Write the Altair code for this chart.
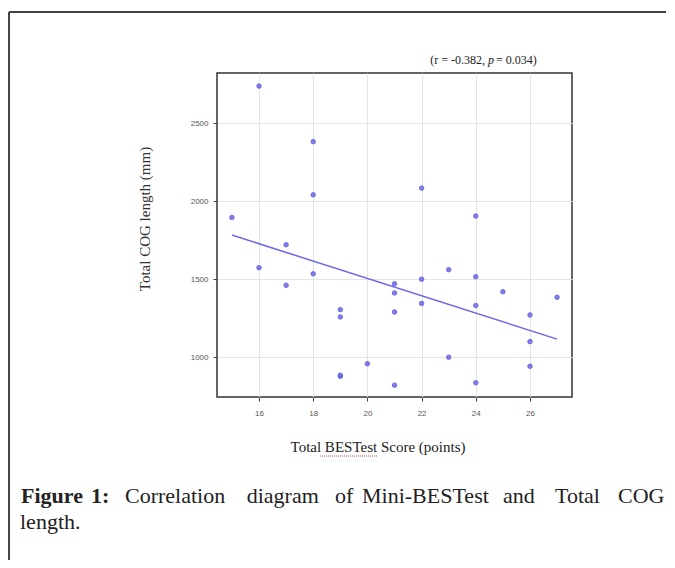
import altair as alt
import pandas as pd

# ---- data ----
scores = [15, 16, 16, 17, 17, 18, 18, 18, 19, 19, 19, 19, 20, 21, 21, 21, 21,
          22, 22, 22, 23, 23, 24, 24, 24, 24, 25, 26, 26, 26, 27]
cog = [1896, 2738, 1574, 1721, 1461, 2382, 2041, 1535, 1305, 1258, 878, 885, 958,
       1471, 1412, 1290, 821, 2084, 1500, 1345, 1561, 1000, 1905, 1516, 1331, 836,
       1420, 1271, 1100, 942, 1384]
x_ticks = [16, 18, 20, 22, 24, 26]
y_ticks = [1000, 1500, 2000, 2500]

df = pd.DataFrame({"score": scores, "cog": cog})
one = pd.DataFrame({"k": [0]})

SERIF = "Liberation Serif"
SANS = "Liberation Sans"
PT = "#7672e8"

x_enc = alt.X("score:Q",
              scale=alt.Scale(domain=[14.45, 27.55], nice=False, zero=False),
              axis=alt.Axis(values=x_ticks, title=None, labelFontSize=8,
                            labelFont=SANS, labelColor="#555", labelPadding=8,
                            tickColor="#444", tickSize=4, domain=False,
                            gridColor="#e4e4e4", gridWidth=1, format="d"))
y_enc = alt.Y("cog:Q",
              scale=alt.Scale(domain=[745, 2822], nice=False, zero=False),
              axis=alt.Axis(values=y_ticks, title=None, labelFontSize=8,
                            labelFont=SANS, labelColor="#555", labelPadding=5,
                            tickColor="#444", tickSize=4, domain=False,
                            gridColor="#e4e4e4", gridWidth=1, format="d"))

base = alt.Chart(df)
points = base.mark_circle(size=20, color=PT, opacity=0.9, stroke="#5550dc",
                          strokeWidth=0.9).encode(x=x_enc, y=y_enc)
line = base.transform_regression("score", "cog").mark_line(
    color="#6a66e8", strokeWidth=1.5).encode(x="score:Q", y="cog:Q")


def txt(s, x, y, **kw):
    return alt.Chart(one).mark_text(text=s, **kw).encode(
        x=alt.value(x), y=alt.value(y))


def rule(x, x2, y, y2, **kw):
    return alt.Chart(one).mark_rule(**kw).encode(
        x=alt.value(x), x2=alt.value(x2), y=alt.value(y), y2=alt.value(y2))


layers = [points, line]

# axis titles
layers.append(txt("Total COG length (mm)", -72, 146, angle=270, font=SERIF,
                  fontSize=15, color="#333", align="center", baseline="middle"))
layers.append(txt("Total BESTest Score (points)", 161, 379, font=SERIF,
                  fontSize=15, color="#222", align="center",
                  baseline="alphabetic"))
layers.append(rule(103, 160, 383, 383, color="#d45050", strokeWidth=1,
                   strokeDash=[1, 1]))

# correlation annotation
layers.append(txt("(r = -0.382,", 268, -9, font=SERIF, fontSize=12,
                  color="#222", align="right", baseline="alphabetic"))
layers.append(txt("p", 271, -9, font=SERIF, fontSize=12, fontStyle="italic",
                  color="#222", align="left", baseline="alphabetic"))
layers.append(txt("= 0.034)", 279, -9, font=SERIF, fontSize=12,
                  color="#222", align="left", baseline="alphabetic"))

# caption (justified line, word by word)
words = [("Figure", 21, "bold"), ("1:", 91, "bold"),
         ("Correlation", 125, "normal"), ("diagram", 246.7, "normal"),
         ("of", 335, "normal"), ("Mini-BESTest", 362, "normal"),
         ("and", 503, "normal"), ("Total", 555, "normal"),
         ("COG", 618, "normal")]
for w, px, fw in words:
    layers.append(txt(w, px - 217, 430, font=SERIF, fontSize=22,
                      fontWeight=fw, color="#222", align="left",
                      baseline="alphabetic"))
layers.append(txt("length.", 20 - 217, 456, font=SERIF, fontSize=22,
                  color="#222", align="left", baseline="alphabetic"))

# outer frame
layers.append(rule(-208, -208, -61, 500, color="#444", strokeWidth=2))
layers.append(rule(-208, 460, -61, -61, color="#444", strokeWidth=2))

chart = alt.layer(*layers).properties(
    width=355, height=324,
    padding={"left": 209, "top": 65, "right": 94, "bottom": 163},
    autosize=alt.AutoSizeParams(type="none"),
).configure_view(stroke="#333", strokeWidth=1.5)

chart.save("out.html", embed_options={"renderer": "svg", "actions": False})
